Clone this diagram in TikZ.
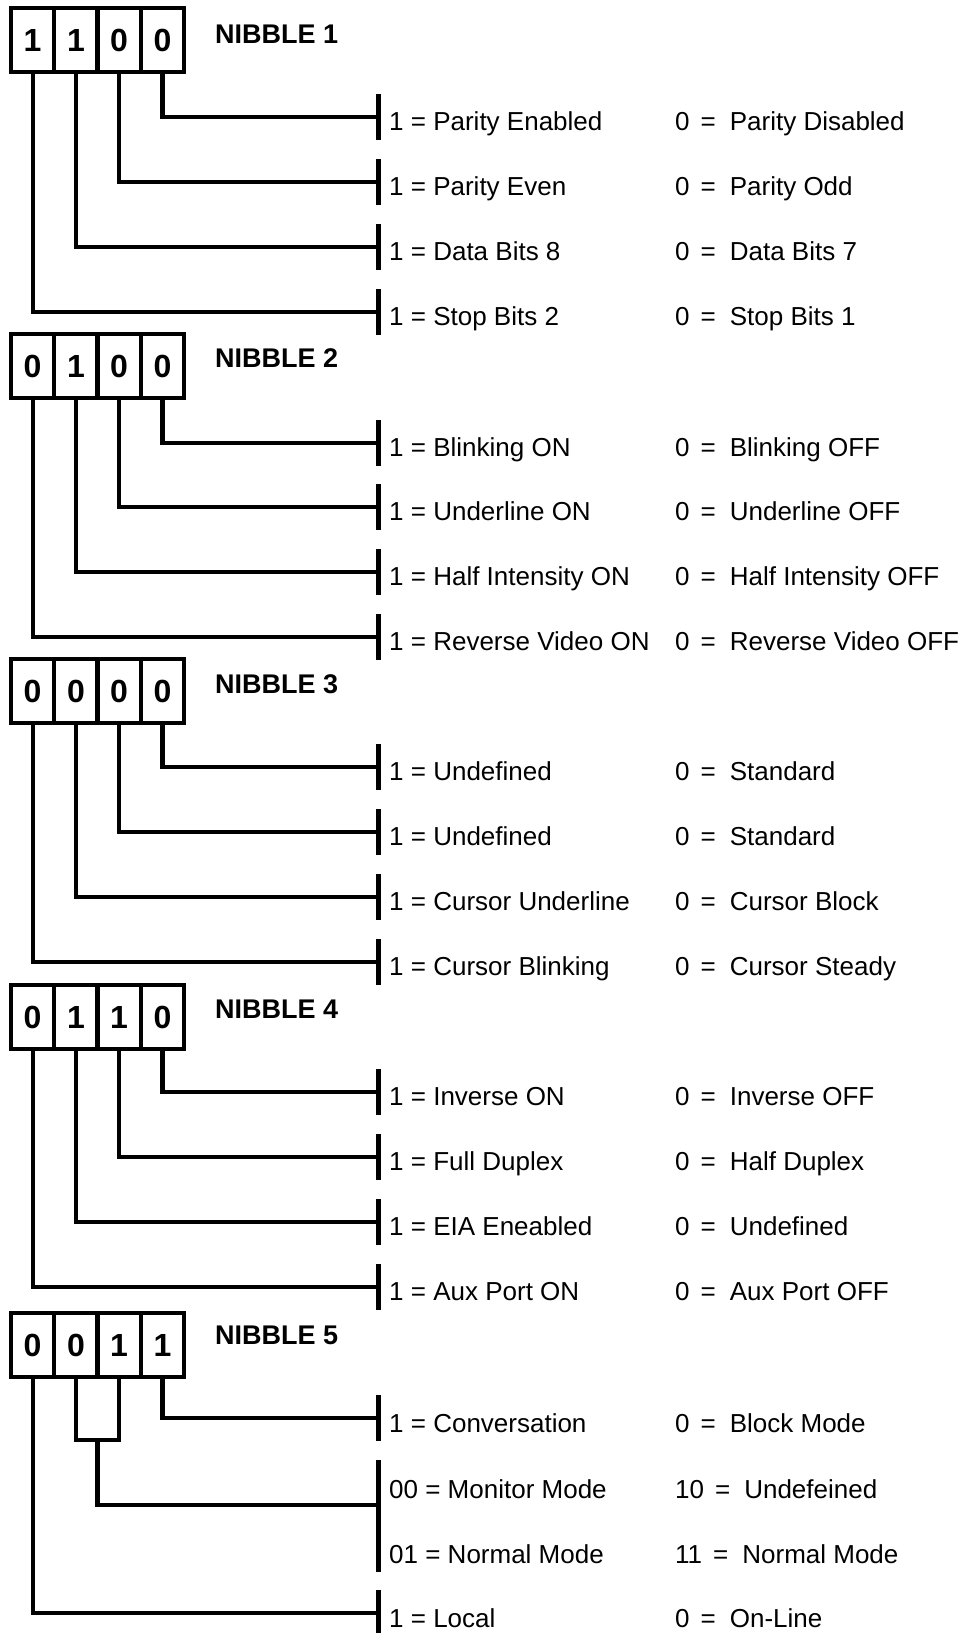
\documentclass[tikz,border=0pt]{standalone}
\usepackage{fontspec}
\setmainfont{Liberation Sans}
\usetikzlibrary{calc,positioning}

\begin{document}
\begin{tikzpicture}[x=1pt,y=-1pt,
    bit/.style={draw,line width=4.2pt,minimum width=43.25pt,minimum height=64pt,inner sep=0pt,
      font=\fontsize{32}{32}\selectfont\bfseries},
    nibtitle/.style={anchor=west,inner sep=0pt,font=\fontsize{27}{27}\selectfont\bfseries},
    wire/.style={line width=4.2pt},
    stub/.style={line width=5pt},
    onetext/.style={anchor=base west,inner sep=0pt,font=\fontsize{26}{26}\selectfont},
    zerotext/.style={anchor=base west,inner sep=0pt,font=\fontsize{26}{26}\selectfont}]
        \def\zeq{\hspace{11pt}=\hspace{14pt}}
        \useasboundingbox (0,0) rectangle (960,1633);
        %Nibble 1
        \node[bit] (b11) at (32.6,40) {1};
        \node[bit] (b12) at (75.9,40) {1};
        \node[bit] (b13) at (119.1,40) {0};
        \node[bit] (b14) at (162.4,40) {0};
        \node[nibtitle] (t1) at (215,34) {NIBBLE 1};
        \coordinate (r11) at (378,117);
        \coordinate (r12) at (378,182);
        \coordinate (r13) at (378,247);
        \coordinate (r14) at (378,312);
        \draw[wire] (b14.south) |- (r11);
        \draw[wire] (b13.south) |- (r12);
        \draw[wire] (b12.south) |- (r13);
        \draw[wire] (b11.south) |- (r14);
        \draw[stub] (r11) +(0,-23) -- +(0,23);
        \draw[stub] (r12) +(0,-23) -- +(0,23);
        \draw[stub] (r13) +(0,-23) -- +(0,23);
        \draw[stub] (r14) +(0,-23) -- +(0,23);
        \node[onetext] (l11) at (389,130) {1 = Parity Enabled};
        \node[onetext] (l12) at (389,195) {1 = Parity Even};
        \node[onetext] (l13) at (389,260) {1 = Data Bits 8};
        \node[onetext] (l14) at (389,325) {1 = Stop Bits 2};
        \node[zerotext] (z11) at (675,130) {0\zeq Parity Disabled};
        \node[zerotext] (z12) at (675,195) {0\zeq Parity Odd};
        \node[zerotext] (z13) at (675,260) {0\zeq Data Bits 7};
        \node[zerotext] (z14) at (675,325) {0\zeq Stop Bits 1};
        %Nibble 2
        \node[bit] (b21) at (32.6,366) {0};
        \node[bit] (b22) at (75.9,366) {1};
        \node[bit] (b23) at (119.1,366) {0};
        \node[bit] (b24) at (162.4,366) {0};
        \node[nibtitle] (t2) at (215,358) {NIBBLE 2};
        \coordinate (r21) at (378,443);
        \coordinate (r22) at (378,507);
        \coordinate (r23) at (378,572);
        \coordinate (r24) at (378,637);
        \draw[wire] (b24.south) |- (r21);
        \draw[wire] (b23.south) |- (r22);
        \draw[wire] (b22.south) |- (r23);
        \draw[wire] (b21.south) |- (r24);
        \draw[stub] (r21) +(0,-23) -- +(0,23);
        \draw[stub] (r22) +(0,-23) -- +(0,23);
        \draw[stub] (r23) +(0,-23) -- +(0,23);
        \draw[stub] (r24) +(0,-23) -- +(0,23);
        \node[onetext] (l21) at (389,456) {1 = Blinking ON};
        \node[onetext] (l22) at (389,520) {1 = Underline ON};
        \node[onetext] (l23) at (389,585) {1 = Half Intensity ON};
        \node[onetext] (l24) at (389,650) {1 = Reverse Video ON};
        \node[zerotext] (z21) at (675,456) {0\zeq Blinking OFF};
        \node[zerotext] (z22) at (675,520) {0\zeq Underline OFF};
        \node[zerotext] (z23) at (675,585) {0\zeq Half Intensity OFF};
        \node[zerotext] (z24) at (675,650) {0\zeq Reverse Video OFF};
        %Nibble 3
        \node[bit] (b31) at (32.6,691) {0};
        \node[bit] (b32) at (75.9,691) {0};
        \node[bit] (b33) at (119.1,691) {0};
        \node[bit] (b34) at (162.4,691) {0};
        \node[nibtitle] (t3) at (215,684) {NIBBLE 3};
        \coordinate (r31) at (378,767);
        \coordinate (r32) at (378,832);
        \coordinate (r33) at (378,897);
        \coordinate (r34) at (378,962);
        \draw[wire] (b34.south) |- (r31);
        \draw[wire] (b33.south) |- (r32);
        \draw[wire] (b32.south) |- (r33);
        \draw[wire] (b31.south) |- (r34);
        \draw[stub] (r31) +(0,-23) -- +(0,23);
        \draw[stub] (r32) +(0,-23) -- +(0,23);
        \draw[stub] (r33) +(0,-23) -- +(0,23);
        \draw[stub] (r34) +(0,-23) -- +(0,23);
        \node[onetext] (l31) at (389,780) {1 = Undefined};
        \node[onetext] (l32) at (389,845) {1 = Undefined};
        \node[onetext] (l33) at (389,910) {1 = Cursor Underline};
        \node[onetext] (l34) at (389,975) {1 = Cursor Blinking};
        \node[zerotext] (z31) at (675,780) {0\zeq Standard};
        \node[zerotext] (z32) at (675,845) {0\zeq Standard};
        \node[zerotext] (z33) at (675,910) {0\zeq Cursor Block};
        \node[zerotext] (z34) at (675,975) {0\zeq Cursor Steady};
        %Nibble 4
        \node[bit] (b41) at (32.6,1017) {0};
        \node[bit] (b42) at (75.9,1017) {1};
        \node[bit] (b43) at (119.1,1017) {1};
        \node[bit] (b44) at (162.4,1017) {0};
        \node[nibtitle] (t4) at (215,1009) {NIBBLE 4};
        \coordinate (r41) at (378,1092);
        \coordinate (r42) at (378,1157);
        \coordinate (r43) at (378,1222);
        \coordinate (r44) at (378,1287);
        \draw[wire] (b44.south) |- (r41);
        \draw[wire] (b43.south) |- (r42);
        \draw[wire] (b42.south) |- (r43);
        \draw[wire] (b41.south) |- (r44);
        \draw[stub] (r41) +(0,-23) -- +(0,23);
        \draw[stub] (r42) +(0,-23) -- +(0,23);
        \draw[stub] (r43) +(0,-23) -- +(0,23);
        \draw[stub] (r44) +(0,-23) -- +(0,23);
        \node[onetext] (l41) at (389,1105) {1 = Inverse ON};
        \node[onetext] (l42) at (389,1170) {1 = Full Duplex};
        \node[onetext] (l43) at (389,1235) {1 = EIA Eneabled};
        \node[onetext] (l44) at (389,1300) {1 = Aux Port ON};
        \node[zerotext] (z41) at (675,1105) {0\zeq Inverse OFF};
        \node[zerotext] (z42) at (675,1170) {0\zeq Half Duplex};
        \node[zerotext] (z43) at (675,1235) {0\zeq Undefined};
        \node[zerotext] (z44) at (675,1300) {0\zeq Aux Port OFF};
        %Nibble 5
        \node[bit] (b51) at (32.6,1345) {0};
        \node[bit] (b52) at (75.9,1345) {0};
        \node[bit] (b53) at (119.1,1345) {1};
        \node[bit] (b54) at (162.4,1345) {1};
        \node[nibtitle] (t5) at (215,1335) {NIBBLE 5};
        \coordinate (k5) at (97.5,1440);
        \coordinate (r51) at (378,1418);
        \coordinate (r52) at (378,1505);
        \coordinate (r53) at (378,1613);
        \draw[wire] (b54.south) |- (r51);
        \draw[wire] (b52.south) |- (k5) -| (b53.south);
        \draw[wire] (k5) |- (r52);
        \draw[wire] (b51.south) |- (r53);
        \draw[stub] (r51) +(0,-23) -- +(0,23);
        \draw[stub] (r52) +(0,-45) -- +(0,67);
        \draw[stub] (r53) +(0,-23) -- +(0,23);
        \node[onetext] (l51) at (389,1432) {1 = Conversation};
        \node[onetext] (l52) at (389,1498) {00 = Monitor Mode};
        \node[onetext] (l53) at (389,1563) {01 = Normal Mode};
        \node[onetext] (l54) at (389,1627) {1 = Local};
        \node[zerotext] (z51) at (675,1432) {0\zeq Block Mode};
        \node[zerotext] (z52) at (675,1498) {10\zeq Undefeined};
        \node[zerotext] (z53) at (675,1563) {11\zeq Normal Mode};
        \node[zerotext] (z54) at (675,1627) {0\zeq On-Line};
      \end{tikzpicture}
\end{document}
